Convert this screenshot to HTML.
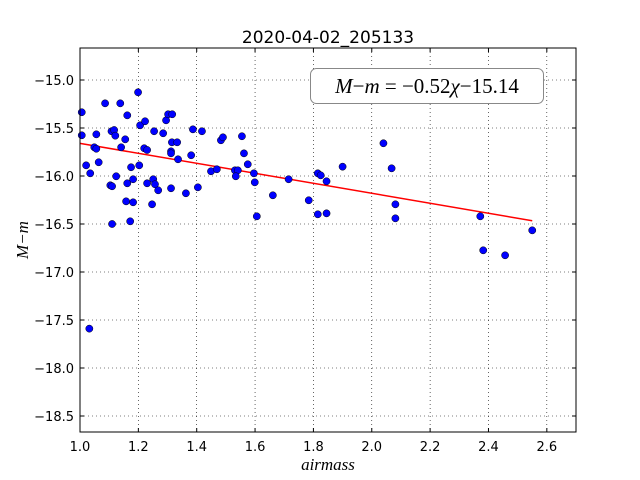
<!DOCTYPE html>
<html><head><meta charset="utf-8"><style>
html,body{margin:0;padding:0;background:#fff;}
svg{display:block;}
text{font-family:"DejaVu Sans","Liberation Sans",sans-serif;}
</style></head><body>
<svg id="chart" width="640" height="480" viewBox="0 0 640 480" xmlns="http://www.w3.org/2000/svg">
<rect x="0" y="0" width="640" height="480" fill="#fff"/>
<text x="328" y="43" font-size="17" text-anchor="middle">2020-04-02_205133</text>
<g id="grid"></g>
<g id="line"></g>
<g id="points"></g>
<rect x="80" y="48" width="496" height="384" fill="none" stroke="#000" stroke-width="1"/>
<g id="ticks"></g>
<g>
<rect x="310.5" y="68.5" width="233" height="35" rx="6" fill="#fff" stroke="#888" stroke-width="1"/>
<text x="427" y="93" text-anchor="middle" style="font-family:'Liberation Serif','DejaVu Serif',serif;font-size:21px"><tspan font-style="italic">M</tspan>−<tspan font-style="italic">m</tspan> = −0.52<tspan font-style="italic">χ</tspan>−15.14</text>
</g>
<text x="328" y="470" text-anchor="middle" style="font-family:'Liberation Serif',serif;font-size:17px;font-style:italic">airmass</text>
<text x="0" y="0" text-anchor="middle" style="font-family:'Liberation Serif',serif;font-size:17px;font-style:italic" transform="translate(28,240) rotate(-90)">M−m</text>
</svg>
<script>
const xs=[1.006,1.006,1.021,1.035,1.056,1.049,1.056,1.064,1.086,1.108,1.117,1.121,1.138,1.162,1.155,1.141,1.124,1.104,1.110,1.110,1.162,1.158,1.172,1.175,1.182,1.182,1.199,1.206,1.223,1.203,1.220,1.230,1.230,1.251,1.257,1.268,1.247,1.254,1.285,1.295,1.302,1.316,1.315,1.333,1.312,1.312,1.336,1.312,1.363,1.381,1.387,1.418,1.404,1.449,1.469,1.483,1.490,1.531,1.541,1.534,1.555,1.562,1.575,1.596,1.599,1.606,1.661,1.715,1.784,1.815,1.825,1.845,1.815,1.845,1.900,2.040,2.068,2.081,2.081,2.372,2.382,2.457,2.550,1.032];
const ys=[-15.336,-15.576,-15.889,-15.972,-15.566,-15.701,-15.716,-15.857,-15.243,-15.534,-15.521,-15.580,-15.243,-15.368,-15.618,-15.701,-16.003,-16.097,-16.107,-16.5,-16.076,-16.264,-16.472,-15.909,-16.034,-16.274,-15.128,-15.472,-15.430,-15.889,-15.711,-15.729,-16.076,-16.034,-16.086,-16.149,-16.295,-15.534,-15.555,-15.420,-15.357,-15.357,-15.649,-15.649,-15.743,-15.764,-15.826,-16.128,-16.180,-15.784,-15.514,-15.534,-16.118,-15.951,-15.930,-15.628,-15.597,-15.941,-15.941,-16.003,-15.586,-15.764,-15.878,-15.972,-16.066,-16.420,-16.201,-16.034,-16.253,-15.972,-15.993,-16.055,-16.399,-16.389,-15.903,-15.659,-15.920,-16.295,-16.441,-16.420,-16.774,-16.826,-16.566,-17.590];
const xTicks=[1.0,1.2,1.4,1.6,1.8,2.0,2.2,2.4,2.6];
const xTickLabels=["1.0","1.2","1.4","1.6","1.8","2.0","2.2","2.4","2.6"];
const yTicks=[-15.0,-15.5,-16.0,-16.5,-17.0,-17.5,-18.0,-18.5];
const yTickLabels=["−15.0","−15.5","−16.0","−16.5","−17.0","−17.5","−18.0","−18.5"];
const fitSlope=-0.52, fitIntercept=-15.14, fitRange=[1.0,2.55];

const NS="http://www.w3.org/2000/svg";
const X0=80,X1=576,Y0=48,Y1=432, xMin=1.0,xMax=2.7, yTop=-14.6667,yBot=-18.6667;
function sx(v){return X0+(v-xMin)/(xMax-xMin)*(X1-X0);}
function sy(v){return Y0+(yTop-v)/(yTop-yBot)*(Y1-Y0);}
function mk(tag,attrs,parent){const e=document.createElementNS(NS,tag);for(const k in attrs)e.setAttribute(k,attrs[k]);parent.appendChild(e);return e;}
const grid=document.getElementById('grid'),ticks=document.getElementById('ticks');
xTicks.forEach((t,i)=>{const x=sx(t);
 const g=mk('line',{x1:x,x2:x,y1:Y0,y2:Y1,stroke:'#000','stroke-width':0.6,'stroke-dasharray':'1,3'},grid);
 
 
 mk('line',{x1:x,x2:x,y1:Y1,y2:Y1-4,stroke:'#000'},ticks);
 mk('line',{x1:x,x2:x,y1:Y0,y2:Y0+4,stroke:'#000'},ticks);
 const l=mk('text',{x:x,y:Y1+19,'font-size':13,'text-anchor':'middle'},ticks);l.textContent=xTickLabels[i];
 
 
});
yTicks.forEach((t,i)=>{const y=sy(t);
 const g=mk('line',{x1:X0,x2:X1,y1:y,y2:y,stroke:'#000','stroke-width':0.6,'stroke-dasharray':'1,3'},grid);
 
 
 mk('line',{x1:X0,x2:X0+4,y1:y,y2:y,stroke:'#000'},ticks);
 mk('line',{x1:X1,x2:X1-4,y1:y,y2:y,stroke:'#000'},ticks);
 const l=mk('text',{x:X0-6,y:y+5,'font-size':13,'text-anchor':'end'},ticks);l.textContent=yTickLabels[i];
 
 
});
const fl=mk('line',{x1:sx(fitRange[0]),y1:sy(fitSlope*fitRange[0]+fitIntercept),x2:sx(fitRange[1]),y2:sy(fitSlope*fitRange[1]+fitIntercept),stroke:'#ff0000','stroke-width':1.5},document.getElementById('line'));


const pts=document.getElementById('points');
xs.forEach((x,i)=>{const c=mk('circle',{cx:sx(x),cy:sy(ys[i]),r:3.6,fill:'#0000ff',stroke:'#000','stroke-width':0.5},pts);
 
 
});
</script>
</body></html>
